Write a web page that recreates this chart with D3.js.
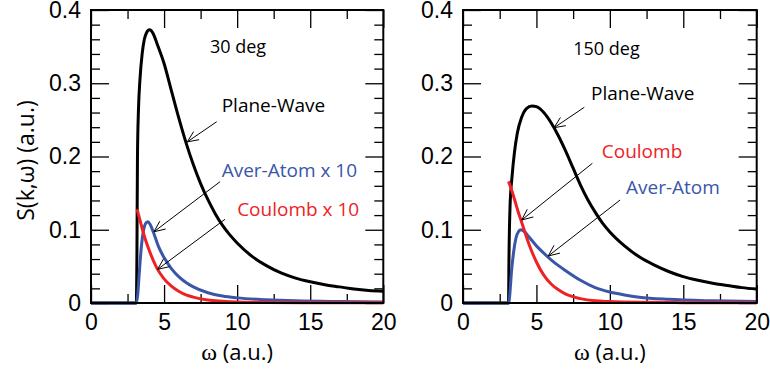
<!DOCTYPE html>
<html>
<head>
<meta charset="utf-8">
<script src="https://cdn.jsdelivr.net/npm/d3@7"></script>
<style>
  body { margin: 0; background: #fff; }
  svg { display: block; font-family: "Open Sans", sans-serif; }
  .axis path { display: none; }
  .axis line { stroke: #000; stroke-width: 1.3; }
  .axis text { font-size: 23px; fill: #000; }
</style>
</head>
<body>
<div id="chart"></div>
<script>
// S(k,w) curves, [omega, S]
const planeWave30 = [[0,0],[3.1,0],[3.14,0.06],[3.18,0.2],[3.25,0.265],[3.35,0.305],[3.5,0.34],[3.65,0.36],[3.8,0.369],[4.0,0.373],[4.25,0.368],[4.5,0.355],[5,0.327],[5.5,0.29],[6,0.253],[6.5,0.219],[7,0.189],[7.5,0.163],[8,0.141],[8.5,0.122],[9,0.106],[9.5,0.093],[10,0.082],[11,0.064],[12,0.051],[13,0.041],[14,0.034],[15,0.029],[16,0.025],[17,0.022],[18,0.019],[19,0.017],[20,0.016]];
const averAtom30 = [[0,0],[3.1,0],[3.2,0.012],[3.3,0.04],[3.45,0.078],[3.6,0.1],[3.75,0.109],[3.9,0.111],[4.05,0.107],[4.3,0.095],[4.6,0.078],[5,0.062],[5.5,0.047],[6,0.036],[6.5,0.028],[7,0.022],[8,0.014],[9,0.0095],[10,0.007],[12,0.0045],[14,0.003],[17,0.002],[20,0.0015]];
const coulomb30 = [[3.15,0.128],[3.3,0.117],[3.5,0.102],[3.75,0.085],[4,0.071],[4.5,0.048],[5,0.033],[5.5,0.023],[6,0.016],[6.5,0.011],[7,0.008],[8,0.004],[9,0.0025],[10,0.0015],[12,0.0008],[15,0.0004],[20,0.0002]];

const planeWave150 = [[0,0],[3.1,0],[3.13,0.06],[3.2,0.13],[3.35,0.175],[3.5,0.205],[3.7,0.232],[4,0.254],[4.3,0.265],[4.7,0.269],[5,0.268],[5.5,0.26],[6,0.246],[6.5,0.228],[7,0.207],[7.5,0.184],[8,0.161],[8.5,0.141],[9,0.124],[9.5,0.109],[10,0.097],[11,0.078],[12,0.063],[13,0.052],[14,0.043],[15,0.036],[16,0.031],[17,0.027],[18,0.024],[19,0.021],[20,0.019]];
const averAtom150 = [[0,0],[3.12,0],[3.2,0.015],[3.3,0.042],[3.45,0.07],[3.6,0.088],[3.8,0.098],[3.95,0.1],[4.2,0.097],[4.5,0.09],[5,0.078],[5.5,0.068],[6,0.059],[6.5,0.051],[7,0.044],[8,0.031],[9,0.021],[10,0.015],[11,0.011],[12,0.008],[14,0.005],[17,0.003],[20,0.002]];
const coulomb150 = [[3.1,0.166],[3.3,0.155],[3.5,0.142],[3.75,0.125],[4,0.11],[4.5,0.08],[5,0.056],[5.5,0.038],[6,0.026],[6.5,0.018],[7,0.012],[8,0.006],[9,0.003],[10,0.002],[12,0.001],[15,0.0005],[20,0.0002]];

const xMajor = [0, 5, 10, 15, 20];
const xMinor = [2.5, 7.5, 12.5, 17.5];
const yMajor = [0, 0.1, 0.2, 0.3, 0.4];
const yMinor = d3.range(0.02, 0.4, 0.02).filter(v => Math.abs(v * 10 - Math.round(v * 10)) > 1e-6);

// labels: [text, omega, S]; arrows: [fromOmega, fromS, toOmega, toS]
const labels30 = [["30 deg", 8.14, 0.341], ["Plane-Wave", 8.94, 0.261], ["Aver-Atom x 10", 8.94, 0.172], ["Coulomb x 10", 10.0, 0.119]];
const arrows30 = [[8.6, 0.2475, 6.59, 0.220], [8.83, 0.1656, 4.31, 0.0973], [9.17, 0.1143, 4.56, 0.046]];
const labels150 = [["150 deg", 7.51, 0.3386], ["Plane-Wave", 8.72, 0.2771], ["Coulomb", 9.45, 0.1975], ["Aver-Atom", 11.1, 0.1488]];
const arrows150 = [[8.26, 0.2672, 6.2, 0.2393], [8.81, 0.1907, 4.0, 0.1133], [10.7, 0.1406, 5.81, 0.0642]];

const colors = { pw: "#000000", aa: "#3a56a8", c: "#ee2224" };
const labelColors = ["#000", "#000", colors.aa, colors.c];
const labelColors150 = ["#000", "#000", colors.c, colors.aa];

const width = 770, height = 373;
const plotTop = 10, plotBottom = 303;

const svg = d3.select("#chart").append("svg")
  .attr("width", width)
  .attr("height", height);

const panels = [
  { x0: 91, x1: 383.3, series: [planeWave30, averAtom30, coulomb30], labels: labels30, lcol: labelColors, arrows: arrows30, yTitle: true },
  { x0: 463, x1: 756.7, series: [planeWave150, averAtom150, coulomb150], labels: labels150, lcol: labelColors150, arrows: arrows150, yTitle: false }
];

panels.forEach(p => {
  const x = d3.scaleLinear().domain([0, 20]).range([p.x0, p.x1]);
  const y = d3.scaleLinear().domain([0, 0.4]).range([plotBottom, plotTop]);
  const g = svg.append("g");

  // ticks pointing inward on all four sides
  g.append("g").attr("class", "axis").attr("transform", `translate(0,${plotBottom})`)
    .call(d3.axisBottom(x).tickValues(xMajor).tickSize(-18).tickPadding(11).tickFormat(d3.format("d")));
  g.append("g").attr("class", "axis").attr("transform", `translate(0,${plotBottom})`)
    .call(d3.axisBottom(x).tickValues(xMinor).tickSize(-9).tickFormat(""));
  g.append("g").attr("class", "axis").attr("transform", `translate(0,${plotTop})`)
    .call(d3.axisTop(x).tickValues(xMajor).tickSize(-18).tickFormat(""));
  g.append("g").attr("class", "axis").attr("transform", `translate(0,${plotTop})`)
    .call(d3.axisTop(x).tickValues(xMinor).tickSize(-9).tickFormat(""));
  g.append("g").attr("class", "axis").attr("transform", `translate(${p.x0},0)`)
    .call(d3.axisLeft(y).tickValues(yMajor).tickSize(-18).tickPadding(10).tickFormat(d => d === 0 ? "0" : d3.format(".1f")(d)));
  g.append("g").attr("class", "axis").attr("transform", `translate(${p.x0},0)`)
    .call(d3.axisLeft(y).tickValues(yMinor).tickSize(-9).tickFormat(""));
  g.append("g").attr("class", "axis").attr("transform", `translate(${p.x1},0)`)
    .call(d3.axisRight(y).tickValues(yMajor).tickSize(-18).tickFormat(""));
  g.append("g").attr("class", "axis").attr("transform", `translate(${p.x1},0)`)
    .call(d3.axisRight(y).tickValues(yMinor).tickSize(-9).tickFormat(""));

  const line = d3.line().x(d => x(d[0])).y(d => y(d[1])).curve(d3.curveMonotoneX);
  const cols = [colors.pw, colors.aa, colors.c];
  p.series.forEach((s, i) => {
    g.append("path").datum(s)
      .attr("d", line)
      .attr("fill", "none")
      .attr("stroke", cols[i])
      .attr("stroke-width", 3)
      .attr("stroke-linejoin", "round");
  });

  g.append("rect")
    .attr("x", p.x0).attr("y", plotTop)
    .attr("width", p.x1 - p.x0).attr("height", plotBottom - plotTop)
    .attr("fill", "none").attr("stroke", "#000").attr("stroke-width", 2);

  // annotation text
  p.labels.forEach((l, i) => {
    g.append("text")
      .attr("x", x(l[1])).attr("y", y(l[2]))
      .attr("font-size", i === 0 ? 18 : 19)
      .attr("fill", p.lcol[i])
      .text(l[0]);
  });

  // arrows with open heads
  p.arrows.forEach(a => {
    const x1 = x(a[0]), y1 = y(a[1]), x2 = x(a[2]), y2 = y(a[3]);
    const ang = Math.atan2(y1 - y2, x1 - x2);
    const len = 12, spread = 0.42;
    g.append("line")
      .attr("x1", x1).attr("y1", y1).attr("x2", x2).attr("y2", y2)
      .attr("stroke", "#000").attr("stroke-width", 1);
    g.append("path")
      .attr("d", `M${x2 + len * Math.cos(ang + spread)},${y2 + len * Math.sin(ang + spread)}L${x2},${y2}L${x2 + len * Math.cos(ang - spread)},${y2 + len * Math.sin(ang - spread)}`)
      .attr("fill", "none").attr("stroke", "#000").attr("stroke-width", 1);
  });

  // x axis title
  const xt = g.append("text")
    .attr("x", (p.x0 + p.x1) / 2).attr("y", 360)
    .attr("text-anchor", "middle").attr("font-size", 22);
  xt.append("tspan").attr("font-family", "'Liberation Serif', serif").attr("font-size", 24).text("ω");
  xt.append("tspan").text(" (a.u.)");

  if (p.yTitle) {
    g.append("text")
      .attr("transform", `translate(34,${(plotTop + plotBottom) / 2 + 4}) rotate(-90)`)
      .attr("text-anchor", "middle").attr("font-size", 23)
      .text("S(k,ω) (a.u.)");
  }
});
</script>
</body>
</html>
